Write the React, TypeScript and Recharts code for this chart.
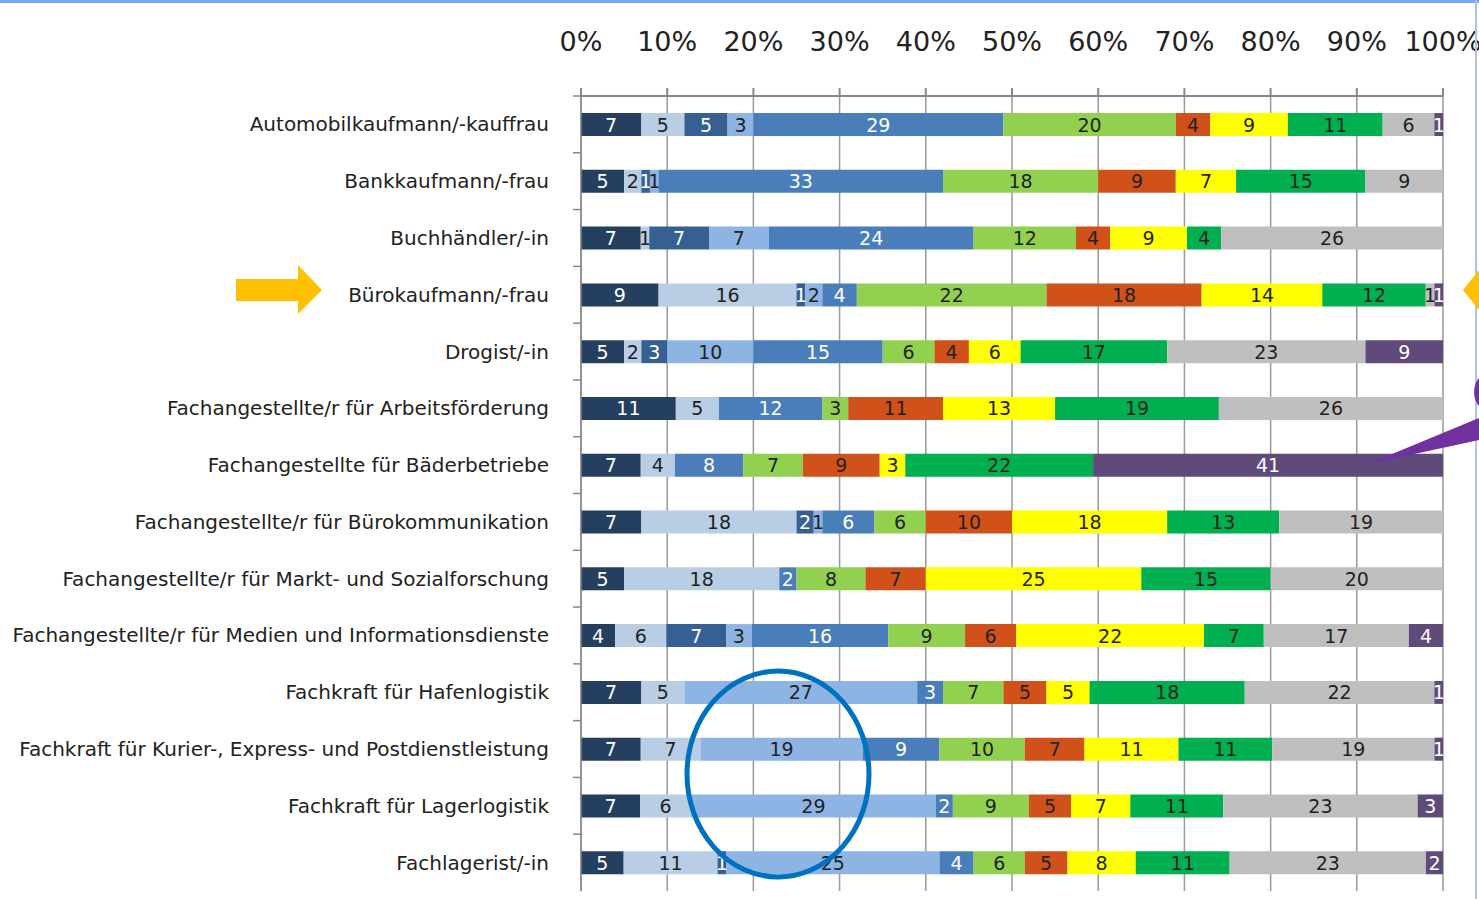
// Ausbildungsberufe — gestapelte 100%-Balken mit Anmerkungen
import React from "react";
import { BarChart, Bar, XAxis, YAxis, CartesianGrid, LabelList } from "recharts";

const BERUFE = [
  "Automobilkaufmann/-kauffrau",
  "Bankkaufmann/-frau",
  "Buchhändler/-in",
  "Bürokaufmann/-frau",
  "Drogist/-in",
  "Fachangestellte/r für Arbeitsförderung",
  "Fachangestellte für Bäderbetriebe",
  "Fachangestellte/r für Bürokommunikation",
  "Fachangestellte/r für Markt- und Sozialforschung",
  "Fachangestellte/r für Medien und Informationsdienste",
  "Fachkraft für Hafenlogistik",
  "Fachkraft für Kurier-, Express- und Postdienstleistung",
  "Fachkraft für Lagerlogistik",
  "Fachlagerist/-in",
];

// eine Liste pro Segment, in Reihenfolge der Berufe
const S1 = [7, 5, 7, 9, 5, 11, 7, 7, 5, 4, 7, 7, 7, 5];
const S2 = [5, 2, 1, 16, 2, 5, 4, 18, 18, 6, 5, 7, 6, 11];
const S3 = [5, 1, 7, 1, 3, 0, 0, 2, 0, 7, 0, 0, 0, 1];
const S4 = [3, 1, 7, 2, 10, 0, 0, 1, 0, 3, 27, 19, 29, 25];
const S5 = [29, 33, 24, 4, 15, 12, 8, 6, 2, 16, 3, 9, 2, 4];
const S6 = [20, 18, 12, 22, 6, 3, 7, 6, 8, 9, 7, 10, 9, 6];
const S7 = [4, 9, 4, 18, 4, 11, 9, 10, 7, 6, 5, 7, 5, 5];
const S8 = [9, 7, 9, 14, 6, 13, 3, 18, 25, 22, 5, 11, 7, 8];
const S9 = [11, 15, 4, 12, 17, 19, 22, 13, 15, 7, 18, 11, 11, 11];
const S10 = [6, 9, 26, 1, 23, 26, 0, 19, 20, 17, 22, 19, 23, 23];
const S11 = [1, 0, 0, 1, 9, 0, 41, 0, 0, 4, 1, 1, 3, 2];

const X_TICKS = [0, 0.1, 0.2, 0.3, 0.4, 0.5, 0.6, 0.7, 0.8, 0.9, 1];

const SERIEN = [
  { key: "s1", werte: S1, farbe: "#243F60", text: "#ffffff" },
  { key: "s2", werte: S2, farbe: "#B9CDE5", text: "#222222" },
  { key: "s3", werte: S3, farbe: "#366092", text: "#ffffff" },
  { key: "s4", werte: S4, farbe: "#8DB4E2", text: "#222222" },
  { key: "s5", werte: S5, farbe: "#4A7EBB", text: "#ffffff" },
  { key: "s6", werte: S6, farbe: "#92D050", text: "#222222" },
  { key: "s7", werte: S7, farbe: "#D0521A", text: "#222222" },
  { key: "s8", werte: S8, farbe: "#FFFF00", text: "#222222" },
  { key: "s9", werte: S9, farbe: "#00B050", text: "#222222" },
  { key: "s10", werte: S10, farbe: "#BFBFBF", text: "#222222" },
  { key: "s11", werte: S11, farbe: "#604A7B", text: "#ffffff" },
];

const daten = BERUFE.map((name, i) => {
  const zeile: any = { name };
  SERIEN.forEach(s => (zeile[s.key] = s.werte[i]));
  return zeile;
});

const FONT = "'DejaVu Sans', sans-serif";
const BREITE = 1479;
const HOEHE = 899;
const OBEN = 96;
const UNTEN = 8;
const BAND = (HOEHE - OBEN - UNTEN) / BERUFE.length;

const YTick = ({ x, y, payload }: any) => (
  <g>
    <line x1={x} x2={x + 8} y1={y - BAND / 2} y2={y - BAND / 2} stroke="#888" strokeWidth={1.5} />
    <text x={x - 24} y={y} dy={7} textAnchor="end" fontFamily={FONT} fontSize={20} fill="#222">
      {payload.value}
    </text>
  </g>
);

const XTick = ({ x, y, payload }: any) => (
  <text x={x} y={y} dy={-35} textAnchor="middle" fontFamily={FONT} fontSize={27} fill="#222">
    {Math.round(payload.value * 100)}%
  </text>
);

// auch 0-Werte beschriften, wie im Original
const wertLabel = (farbe: string) => (props: any) => {
  const { x, y, width, height, value } = props;
  if (value == null) return null;
  return (
    <text
      x={Number(x) + Number(width || 0) / 2}
      y={Number(y) + Number(height || 0) / 2}
      dy={7}
      textAnchor="middle"
      fontFamily={FONT}
      fontSize={19}
      fill={farbe}
    >
      {value}
    </text>
  );
};

export default function App() {
  return (
    <div style={{ position: "absolute", left: 0, top: 0, width: BREITE, height: HOEHE, background: "#fff", overflow: "hidden" }}>
      <BarChart
        width={BREITE}
        height={HOEHE}
        data={daten}
        layout="vertical"
        stackOffset="expand"
        barCategoryGap="30%"
        margin={{ top: 0, right: 36, bottom: UNTEN, left: 0 }}
      >
        <CartesianGrid vertical horizontal={false} stroke="#999" strokeWidth={1.5} verticalValues={X_TICKS} />
        <XAxis
          type="number"
          orientation="top"
          domain={[0, 1]}
          ticks={X_TICKS}
          height={OBEN}
          tick={<XTick />}
          tickSize={8}
          stroke="#888"
          strokeWidth={2}
          interval={0}
        />
        <YAxis
          type="category"
          dataKey="name"
          width={581}
          tick={<YTick />}
          tickLine={false}
          stroke="#888"
          strokeWidth={1.5}
          interval={0}
        />
        {SERIEN.map(s => (
          <Bar key={s.key} dataKey={s.key} stackId="a" fill={s.farbe} isAnimationActive={false}>
            <LabelList dataKey={s.key} content={wertLabel(s.text)} />
          </Bar>
        ))}
      </BarChart>
      <svg width={BREITE} height={HOEHE} style={{ position: "absolute", left: 0, top: 0, pointerEvents: "none" }}>
        <rect x={0} y={0} width={BREITE} height={3} fill="#7EA6F4" />
        <line x1={1476} x2={1476} y1={0} y2={HOEHE} stroke="#A9C2F5" strokeWidth={2} />
        <polygon points="236,279 298,279 298,265 322,290 298,314 298,301 236,301" fill="#FFC000" />
        <polygon points="1463,290 1479,270 1479,310" fill="#FFC000" />
        <ellipse cx={778} cy={774} rx={91} ry={103} fill="none" stroke="#0070C0" strokeWidth={5} />
        <polygon points="1368,464 1479,418 1479,440" fill="#7030A0" />
        <ellipse cx={1500} cy={392} rx={26} ry={24} fill="#7030A0" />
      </svg>
    </div>
  );
}
